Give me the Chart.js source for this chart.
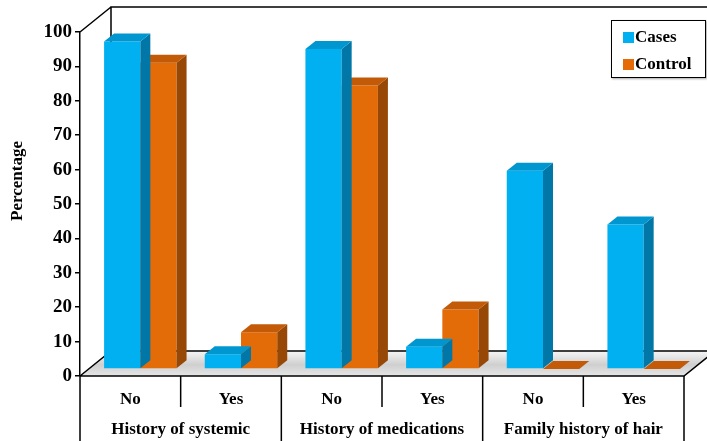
<!DOCTYPE html>
<html>
<head>
<meta charset="utf-8">
<script src="https://cdn.jsdelivr.net/npm/chart.js@4.4.0/dist/chart.umd.min.js"></script>
<style>
    html, body { margin: 0; padding: 0; background: #fff; }
    #grafica { display: block; }
</style>
</head>
<body>
<canvas id="grafica" width="707" height="441"></canvas>
<script>
(function () {
    var CATEGORIAS = ['No', 'Yes', 'No', 'Yes', 'No', 'Yes'];
    var GRUPOS = ['History of systemic', 'History of medications', 'Family history of hair'];
    var CASOS = [95.2, 4.3, 93.0, 6.5, 57.6, 42.0];
    var CONTROL = [89.0, 10.7, 82.4, 17.3, 0, 0];
    var TICKS_Y = [0, 10, 20, 30, 40, 50, 60, 70, 80, 90, 100];
    var TITULO_Y = 'Percentage';

    var FUENTE = "'Liberation Serif', 'Times New Roman', serif";

    var COLORES = {
        Cases: {frente: '#00b0f0', lado: '#0077a6', tapa: '#0096d0'},
        Control: {frente: '#e36c09', lado: '#974806', tapa: '#c25a08'},
    };

    // desplazamientos de la perspectiva
    var PLANO = {x: 10, y: -7};
    var PROF = {x: 10, y: -8};
    var FONDO = {x: 31, y: -25};

    var barras3d = {
        id: 'barras3d',
        beforeDatasetsDraw: function (chart) {
            var ctx = chart.ctx;
            var a = chart.chartArea;

            ctx.save();
            var g = ctx.createLinearGradient(0, a.bottom + FONDO.y, 0, a.bottom);
            g.addColorStop(0, '#f6f6f6');
            g.addColorStop(0.55, '#cfcfcf');
            g.addColorStop(1, '#e6e6e6');
            ctx.fillStyle = g;
            ctx.beginPath();
            ctx.moveTo(a.left, a.bottom);
            ctx.lineTo(a.right, a.bottom);
            ctx.lineTo(a.right + FONDO.x, a.bottom + FONDO.y);
            ctx.lineTo(a.left + FONDO.x, a.bottom + FONDO.y);
            ctx.closePath();
            ctx.fill();

            ctx.strokeStyle = '#000';
            ctx.lineWidth = 1.5;
            ctx.beginPath();
            ctx.moveTo(a.left + FONDO.x, a.bottom + FONDO.y);
            ctx.lineTo(a.left + FONDO.x, a.top + FONDO.y);
            ctx.lineTo(chart.width, a.top + FONDO.y);
            ctx.moveTo(a.left, a.top);
            ctx.lineTo(a.left + FONDO.x, a.top + FONDO.y);
            ctx.moveTo(a.left, a.bottom);
            ctx.lineTo(a.left + FONDO.x, a.bottom + FONDO.y);
            ctx.lineTo(chart.width, a.bottom + FONDO.y);
            ctx.moveTo(a.left, a.bottom);
            ctx.lineTo(a.right, a.bottom);
            ctx.lineTo(a.right + FONDO.x, a.bottom + FONDO.y);
            ctx.stroke();
            ctx.restore();

            ctx.save();
            ctx.translate(PLANO.x, PLANO.y);
        },
        afterDatasetDraw: function (chart, args) {
            var ctx = chart.ctx;
            var col = COLORES[chart.data.datasets[args.index].label];

            args.meta.data.forEach(function (el) {
                var p = el.getProps(['x', 'y', 'base', 'width'], true);
                var izq = p.x - p.width / 2;
                var der = p.x + p.width / 2;
                var arriba = Math.min(p.y, p.base);
                var abajo = Math.max(p.y, p.base);

                ctx.fillStyle = col.lado;
                ctx.beginPath();
                ctx.moveTo(der, arriba);
                ctx.lineTo(der + PROF.x, arriba + PROF.y);
                ctx.lineTo(der + PROF.x, abajo + PROF.y);
                ctx.lineTo(der, abajo);
                ctx.closePath();
                ctx.fill();

                ctx.fillStyle = col.tapa;
                ctx.beginPath();
                ctx.moveTo(izq, arriba);
                ctx.lineTo(izq + PROF.x, arriba + PROF.y);
                ctx.lineTo(der + PROF.x, arriba + PROF.y);
                ctx.lineTo(der, arriba);
                ctx.closePath();
                ctx.fill();
            });
        },
        afterDatasetsDraw: function (chart) {
            chart.ctx.restore();
        },
        afterDraw: function (chart) {
            var ctx = chart.ctx;
            var a = chart.chartArea;
            var x = chart.scales.x;
            var n = CATEGORIAS.length;

            // caja de categorias
            ctx.save();
            ctx.strokeStyle = '#000';
            ctx.lineWidth = 1.5;
            ctx.beginPath();
            for (var i = 0; i <= n; i++) {
                var bx;
                if (i === 0) {
                    bx = a.left;
                } else if (i === n) {
                    bx = a.right;
                } else {
                    bx = (x.getPixelForValue(i - 1) + x.getPixelForValue(i)) / 2;
                }
                ctx.moveTo(bx, a.bottom);
                ctx.lineTo(bx, i % 2 === 0 ? chart.height : a.bottom + 31);
            }
            ctx.stroke();

            ctx.fillStyle = '#000';
            ctx.font = 'bold 17px ' + FUENTE;
            ctx.textAlign = 'center';
            ctx.textBaseline = 'middle';
            GRUPOS.forEach(function (t, k) {
                var cx = (x.getPixelForValue(2 * k) + x.getPixelForValue(2 * k + 1)) / 2;
                ctx.fillText(t, cx, 430);
            });

            // titulo eje y
            ctx.save();
            ctx.translate(18, 181);
            ctx.rotate(-Math.PI / 2);
            ctx.font = 'bold 17px ' + FUENTE;
            ctx.fillText(TITULO_Y, 0, 0);
            ctx.restore();

            // leyenda
            ctx.fillStyle = '#fff';
            ctx.shadowColor = 'rgba(0,0,0,0.35)';
            ctx.shadowOffsetX = 1;
            ctx.shadowOffsetY = 1;
            ctx.shadowBlur = 2;
            ctx.fillRect(611, 20, 95, 58);
            ctx.shadowColor = 'transparent';
            ctx.lineWidth = 1;
            ctx.strokeRect(611.5, 20.5, 94, 57);

            ctx.textAlign = 'left';
            ctx.font = 'bold 17px ' + FUENTE;
            chart.data.datasets.forEach(function (ds, k) {
                var ly = 37 + k * 27;
                ctx.fillStyle = COLORES[ds.label].frente;
                ctx.fillRect(623, ly - 5, 11, 11);
                ctx.fillStyle = '#000';
                ctx.fillText(ds.label, 635, ly + 1);
            });
            ctx.restore();
        },
    };

    Chart.defaults.font.family = FUENTE;
    Chart.defaults.color = '#000';

    new Chart(document.getElementById('grafica'), {
        type: 'bar',
        data: {
            labels: CATEGORIAS,
            datasets: [
                {label: 'Cases', data: CASOS, backgroundColor: COLORES.Cases.frente},
                {label: 'Control', data: CONTROL, backgroundColor: COLORES.Control.frente},
            ],
        },
        options: {
            responsive: false,
            animation: false,
            devicePixelRatio: 1,
            layout: {padding: {top: 32, right: 23, left: 0, bottom: 0}},
            datasets: {bar: {categoryPercentage: 0.72, barPercentage: 1, borderWidth: 0, clip: false}},
            plugins: {legend: {display: false}, tooltip: {enabled: false}},
            scales: {
                x: {
                    grid: {display: false, drawTicks: false},
                    border: {display: false},
                    ticks: {font: {size: 17, weight: 'bold'}, color: '#000', padding: 13},
                    afterFit: function (s) { s.height = 65; },
                },
                y: {
                    min: 0,
                    max: 100,
                    afterBuildTicks: function (s) {
                        s.ticks = TICKS_Y.map(function (v) { return {value: v}; });
                    },
                    grid: {display: true, drawOnChartArea: false, drawTicks: true, tickLength: 5, color: '#000', lineWidth: 1.5},
                    border: {display: true, color: '#000', width: 1.5},
                    ticks: {font: {size: 19, weight: 'bold'}, color: '#000', padding: 3},
                    afterFit: function (s) { s.width = 80; },
                },
            },
        },
        plugins: [barras3d],
    });
})();
</script>
</body>
</html>
